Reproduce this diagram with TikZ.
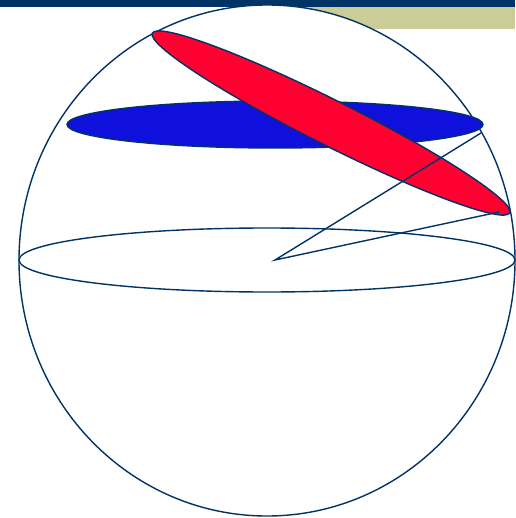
\documentclass[tikz,border=0pt]{standalone}
\begin{document}
\begin{tikzpicture}[x=1pt,y=-1pt,
  navyline/.style={draw=navy,line width=1.4pt},
  ]
\definecolor{navy}{HTML}{003366}
\definecolor{khaki}{HTML}{CCCC99}
\definecolor{discblue}{HTML}{1010DD}
\definecolor{discred}{HTML}{FF0030}
\useasboundingbox (0,0) rectangle (515,518);
\fill[white] (0,0) rectangle (515,518);
% header bars
\fill[navy] (0,0) rectangle (515,7);
\fill[khaki] (300,7) rectangle (515,29);
% sphere
\draw[navyline,fill=white] (267,260.5) ellipse [x radius=248, y radius=255.5];
% equator
\draw[navyline] (267,260) ellipse [x radius=248, y radius=32];
% blue disc
\draw[navyline,fill=discblue] (275,124.5) ellipse [x radius=208, y radius=23.5];
% red disc
\draw[navyline,fill=discred,rotate around={-26.7:(331,123)}] (331,123) ellipse [x radius=200, y radius=22.5];
% radii
\coordinate (O) at (275,260);
\coordinate (A) at (481,133);
\coordinate (B) at (499,212);
\draw[navyline] (A) -- (O) -- (B);
\end{tikzpicture}
\end{document}
